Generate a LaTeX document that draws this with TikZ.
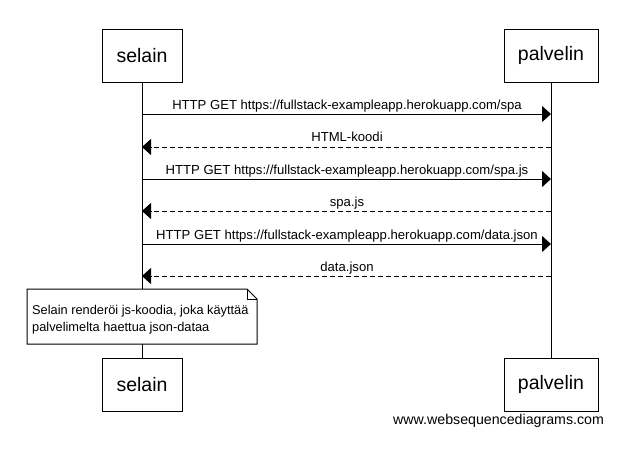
\documentclass[tikz,border=0pt]{standalone}
\usepackage{fontspec}
\setmainfont{Liberation Sans}
\usetikzlibrary{arrows.meta,shapes.misc}
\begin{document}
\begin{tikzpicture}[x=1pt,y=-1pt,
  actor/.style={draw,line width=1pt,minimum width=80pt,minimum height=53pt,inner sep=0pt,font=\fontsize{19.5}{22}\selectfont},
  lifeline/.style={line width=1pt},
  msg/.style={line width=1pt,-{Triangle[length=9pt,width=16pt]}},
  reply/.style={msg,dash pattern=on 5pt off 3pt},
  lbl/.style={font=\fontsize{13.1}{15}\selectfont,inner sep=0pt,anchor=base},
  notebox/.style={line width=1pt}
]
\useasboundingbox (0,0) rectangle (642,448);
\fill[white] (0,0) rectangle (642,448);

% participants at the top and bottom
\node[actor] (s1) at (142,55.5) {selain};
\node[actor,minimum width=94pt] (p1) at (551,55.5) {palvelin};
\node[actor] (s2) at (142,384.5) {selain};
\node[actor,minimum width=94pt] (p2) at (551,384.5) {palvelin};

% lifelines
\draw[lifeline] (s1.south) -- (s2.north);
\draw[lifeline] (p1.south) -- (p2.north);

% message anchor points on the lifelines
\foreach \n/\y in {1/114,2/147,3/179,4/211,5/244,6/276}{
  \coordinate (a\n) at (142,\y);
  \coordinate (b\n) at (551,\y);
}

\draw[msg] (a1) -- (b1);
\node[lbl] (m1) at (347,109) {HTTP GET https://fullstack-exampleapp.herokuapp.com/spa};
\draw[reply] (b2) -- (a2);
\node[lbl] (m2) at (347,141) {HTML-koodi};
\draw[msg] (a3) -- (b3);
\node[lbl] (m3) at (347,174) {HTTP GET https://fullstack-exampleapp.herokuapp.com/spa.js};
\draw[reply] (b4) -- (a4);
\node[lbl] (m4) at (347,206) {spa.js};
\draw[msg] (a5) -- (b5);
\node[lbl] (m5) at (347,239) {HTTP GET https://fullstack-exampleapp.herokuapp.com/data.json};
\draw[reply] (b6) -- (a6);
\node[lbl] (m6) at (347,271) {data.json};

% note with folded corner
\filldraw[notebox,fill=white] (27,289) -- (247,289) -- (257,299) -- (257,344) -- (27,344) -- cycle;
\draw[line width=0.7pt] (247,289) -- (247,299) -- (257,299);
\node[font=\fontsize{12.8}{17}\selectfont,align=left,anchor=north west,inner sep=0pt] (note) at (32,305)
  {Selain renderöi js-koodia, joka käyttää\\palvelimelta haettua json-dataa};

% footer
\node[font=\fontsize{14.2}{16}\selectfont,anchor=base west,inner sep=0pt] (wm) at (393,424) {www.websequencediagrams.com};
\end{tikzpicture}
\end{document}
